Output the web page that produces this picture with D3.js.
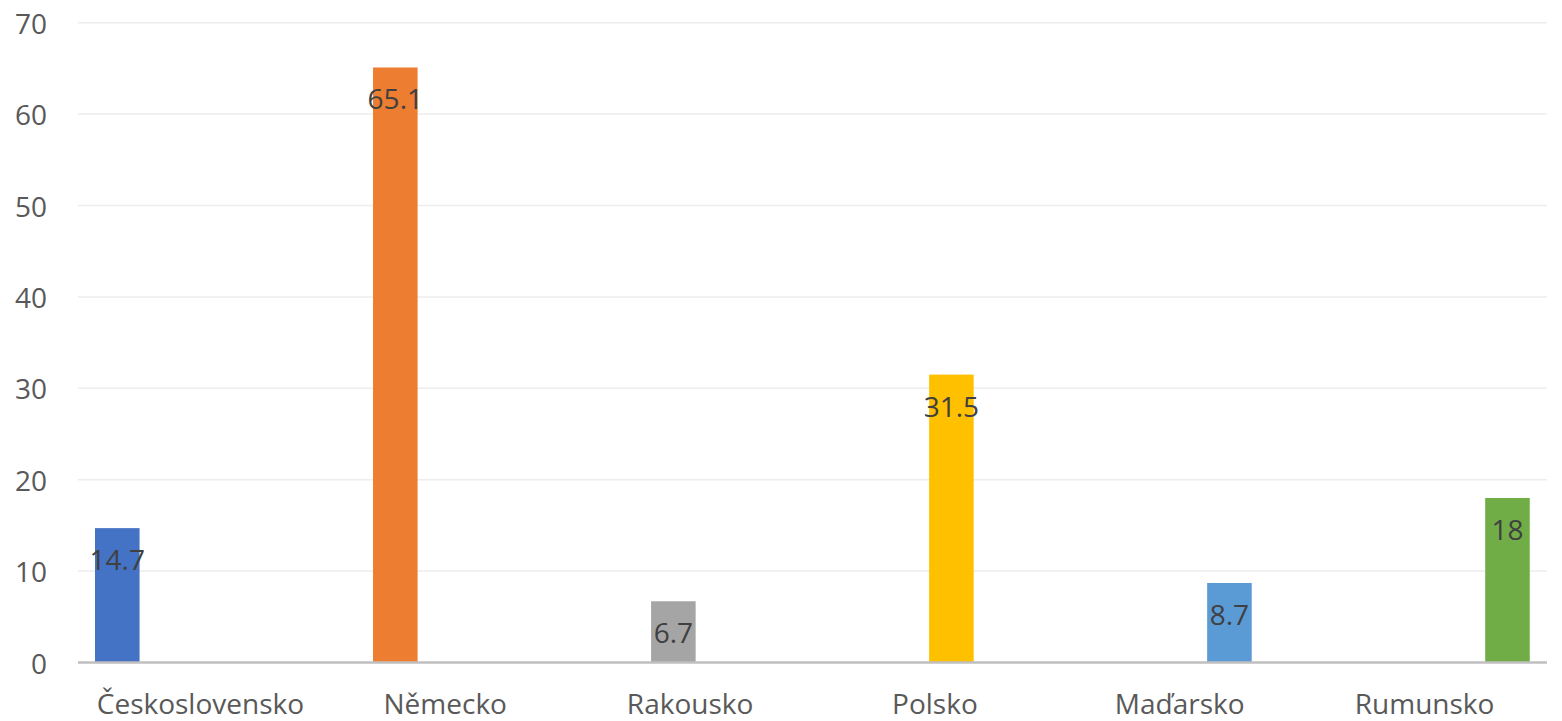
<!DOCTYPE html>
<html>
<head>
<meta charset="utf-8">
<script src="https://cdn.jsdelivr.net/npm/d3@7"></script>
<style>
  html, body { margin: 0; padding: 0; background: #fff; }
  svg text { font-family: "Open Sans", "Noto Sans", sans-serif; }
</style>
</head>
<body>
<svg id="chart" width="1562" height="721"></svg>
<script>
const categories = ["Československo", "Německo", "Rakousko", "Polsko", "Maďarsko", "Rumunsko"];
const values = [14.7, 65.1, 6.7, 31.5, 8.7, 18];
const labels = ["14.7", "65.1", "6.7", "31.5", "8.7", "18"];
const colors = ["#4472C4", "#ED7D31", "#A5A5A5", "#FFC000", "#5B9BD5", "#70AD47"];
const yTicks = [0, 10, 20, 30, 40, 50, 60, 70];

(function () {
const svg = d3.select("#chart");
const mLeft = 78, mRight = 1547, mTop = 22.7, mBottom = 662.5;

const x = d3.scaleBand().domain(categories).range([mLeft, mRight]).padding(0);
const y = d3.scaleLinear().domain([0, 70]).range([mBottom, mTop]);
const bw = x.bandwidth();
const slot = d3.scaleLinear().domain([0, 5]).range([bw * 0.0694, bw * 0.7476]);
const barW = bw * 0.182;

svg.append("g").selectAll("line").data(yTicks.filter(t => t > 0)).join("line")
  .attr("x1", mLeft).attr("x2", mRight)
  .attr("y1", d => y(d)).attr("y2", d => y(d))
  .attr("stroke", "#EDEDED").attr("stroke-width", 1.5);

svg.append("g").selectAll("text").data(yTicks).join("text")
  .attr("x", 47).attr("y", d => y(d))
  .attr("text-anchor", "end").attr("dominant-baseline", "central")
  .attr("font-size", 28).attr("fill", "#595959")
  .text(d => d);

const data = categories.map((c, i) => ({ c, i, v: values[i], label: labels[i], color: colors[i] }));
svg.append("g").selectAll("rect").data(data).join("rect")
  .attr("x", d => x(d.c) + slot(d.i))
  .attr("y", d => y(d.v))
  .attr("width", barW)
  .attr("height", d => y(0) - y(d.v))
  .attr("fill", d => d.color);

svg.append("line")
  .attr("x1", mLeft).attr("x2", mRight)
  .attr("y1", y(0)).attr("y2", y(0))
  .attr("stroke", "#BFBFBF").attr("stroke-width", 2.5);

svg.append("g").selectAll("text").data(data).join("text")
  .attr("x", d => x(d.c) + slot(d.i) + barW / 2)
  .attr("y", d => y(d.v) + 42)
  .attr("text-anchor", "middle")
  .attr("font-size", 28).attr("fill", "#404040")
  .text(d => d.label);

svg.append("g").selectAll("text").data(categories).join("text")
  .attr("x", d => x(d) + bw / 2)
  .attr("y", 714)
  .attr("text-anchor", "middle")
  .attr("font-size", 28).attr("fill", "#595959")
  .text(d => d);
})();
</script>
</body>
</html>
